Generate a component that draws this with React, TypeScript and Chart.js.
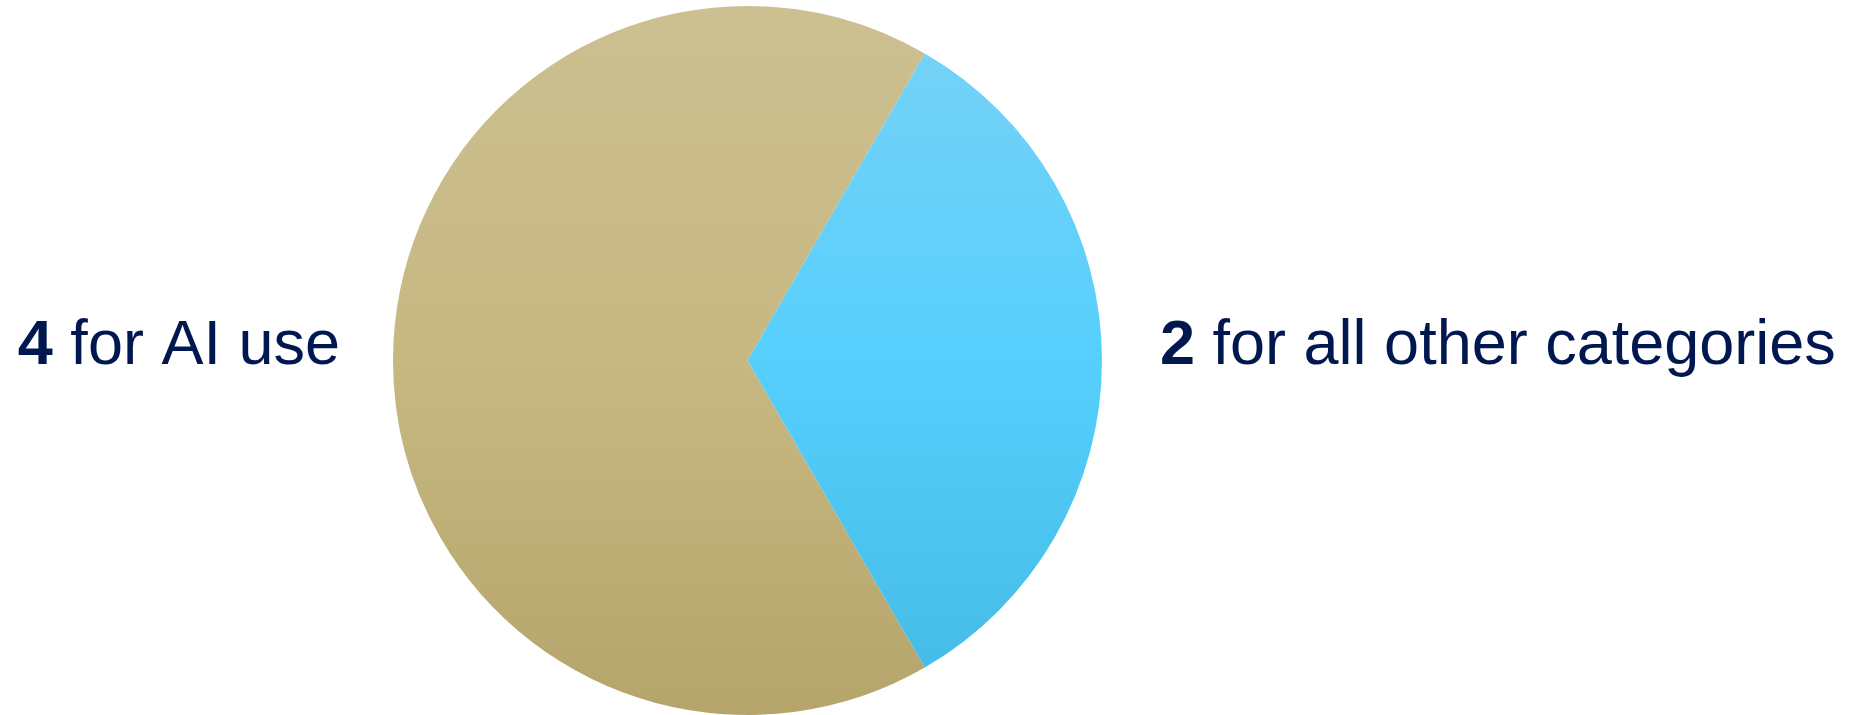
import React, { useEffect, useRef } from "react";
import { Chart, registerables } from "chart.js";

Chart.register(...registerables);

const categories = ["AI use", "all other categories"];
const values = [4, 2];
const labelNumbers = ["4", "2"];
const labelTexts = [" for AI use", " for all other categories"];

const goldStops: [number, string][] = [
  [0, "#CCC091"],
  [0.5, "#C7B882"],
  [1, "#B5A56B"],
];
const blueStops: [number, string][] = [
  [0, "#79D2F6"],
  [0.5, "#56CFFD"],
  [1, "#43BAE4"],
];
const stopsList = [goldStops, blueStops];

const TEXT_COLOR = "#00174F";
const FONT_SIZE = 63;
const FONT_FAMILY = '"Liberation Sans", Arial, sans-serif';

const sideLabels = {
  id: "sideLabels",
  afterDraw(chart: any) {
    const meta = chart.getDatasetMeta(0);
    const arc = meta.data[0];
    if (!arc) return;
    const { x: cx, y: cy, outerRadius: r } = arc.getProps(["x", "y", "outerRadius"], true);
    const ctx = chart.ctx;
    ctx.save();
    ctx.fillStyle = TEXT_COLOR;
    ctx.textBaseline = "alphabetic";
    ctx.textAlign = "left";
    const baseline = cy + 3.5;
    // left label (right edge ~ 53px left of the circle)
    ctx.font = `bold ${FONT_SIZE}px ${FONT_FAMILY}`;
    const w0 = ctx.measureText(labelNumbers[0]).width;
    ctx.font = `${FONT_SIZE}px ${FONT_FAMILY}`;
    const w1 = ctx.measureText(labelTexts[0]).width;
    let lx = cx - r - 53 - (w0 + w1);
    ctx.font = `bold ${FONT_SIZE}px ${FONT_FAMILY}`;
    ctx.fillText(labelNumbers[0], lx, baseline);
    ctx.font = `${FONT_SIZE}px ${FONT_FAMILY}`;
    ctx.fillText(labelTexts[0], lx + w0, baseline);
    // right label
    let rx = cx + r + 58;
    ctx.font = `bold ${FONT_SIZE}px ${FONT_FAMILY}`;
    const w2 = ctx.measureText(labelNumbers[1]).width;
    ctx.fillText(labelNumbers[1], rx, baseline);
    ctx.font = `${FONT_SIZE}px ${FONT_FAMILY}`;
    ctx.fillText(labelTexts[1], rx + w2, baseline);
    ctx.restore();
  },
};

export default function App() {
  const ref = useRef<HTMLCanvasElement>(null);
  useEffect(() => {
    document.body.style.margin = "0";
    const canvas = ref.current!;
    const chart = new Chart(canvas, {
      type: "pie",
      data: {
        labels: categories,
        datasets: [
          {
            data: values,
            borderWidth: 0,
            backgroundColor: (c: any) => {
              const chart = c.chart;
              const area = chart.chartArea;
              const stops = stopsList[c.dataIndex] || goldStops;
              if (!area) return stops[0][1];
              const g = chart.ctx.createLinearGradient(0, area.top, 0, area.bottom);
              stops.forEach(([o, col]) => g.addColorStop(o, col));
              return g;
            },
          },
        ],
      },
      options: {
        responsive: false,
        animation: false,
        rotation: 150,
        layout: { padding: { left: 393, right: 752, top: 6, bottom: 0 } },
        plugins: {
          legend: { display: false },
          tooltip: { enabled: false },
        },
      },
      plugins: [sideLabels],
    });
    return () => chart.destroy();
  }, []);
  return (
    <div style={{ position: "absolute", left: 0, top: 0, width: 1854, height: 715, background: "#fff" }}>
      <canvas ref={ref} width={1854} height={715} style={{ width: 1854, height: 715, display: "block" }} />
    </div>
  );
}
